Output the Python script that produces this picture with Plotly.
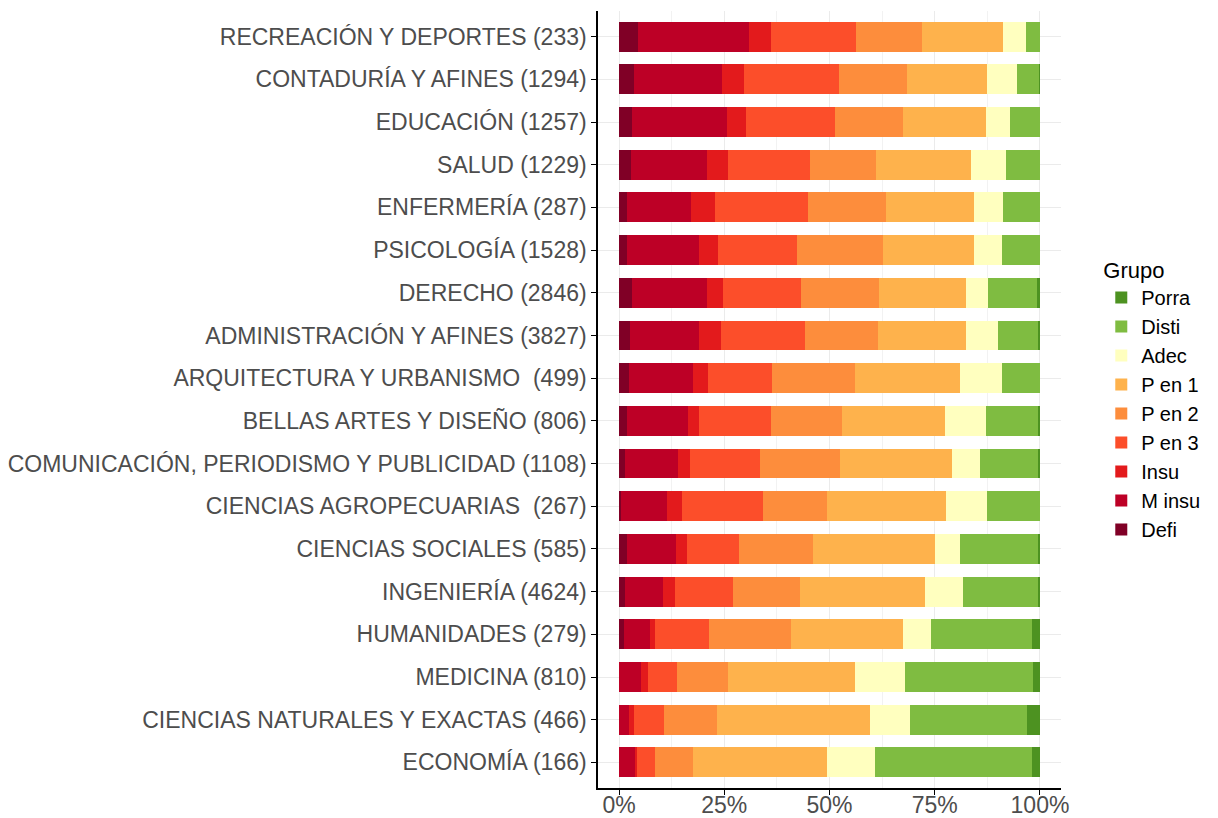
import plotly.graph_objects as go

categories = [
    "RECREACIÓN Y DEPORTES (233)",
    "CONTADURÍA Y AFINES (1294)",
    "EDUCACIÓN (1257)",
    "SALUD (1229)",
    "ENFERMERÍA (287)",
    "PSICOLOGÍA (1528)",
    "DERECHO (2846)",
    "ADMINISTRACIÓN Y AFINES (3827)",
    "ARQUITECTURA Y URBANISMO  (499)",
    "BELLAS ARTES Y DISEÑO (806)",
    "COMUNICACIÓN, PERIODISMO Y PUBLICIDAD (1108)",
    "CIENCIAS AGROPECUARIAS  (267)",
    "CIENCIAS SOCIALES (585)",
    "INGENIERÍA (4624)",
    "HUMANIDADES (279)",
    "MEDICINA (810)",
    "CIENCIAS NATURALES Y EXACTAS (466)",
    "ECONOMÍA (166)",
]

groups = ["Defi", "M insu", "Insu", "P en 3", "P en 2", "P en 1", "Adec", "Disti", "Porra"]

defi   = [4.44, 3.49, 3.01, 2.77, 1.82, 1.82, 3.01, 2.54, 2.30, 1.82, 1.35, 0.40, 1.82, 1.35, 1.11, 0.10, 0.00, 0.00]
m_insu = [26.39, 20.92, 22.58, 18.07, 15.21, 17.12, 17.83, 16.40, 15.21, 14.50, 12.60, 10.94, 11.65, 9.03, 6.18, 5.15, 2.30, 3.72]
insu   = [5.23, 5.23, 4.52, 4.99, 5.71, 4.52, 3.80, 5.23, 3.57, 2.61, 2.85, 3.57, 2.61, 2.85, 1.19, 1.66, 1.19, 0.48]
p_en_3 = [20.21, 22.82, 21.16, 19.49, 22.11, 18.78, 18.54, 19.97, 15.21, 17.12, 16.64, 19.26, 12.36, 13.79, 12.84, 6.89, 7.13, 4.28]
p_en_2 = [15.69, 16.16, 16.16, 15.69, 18.54, 20.44, 18.54, 17.35, 19.73, 16.88, 19.02, 15.21, 17.59, 15.93, 19.49, 12.12, 12.60, 9.03]
p_en_1 = [19.26, 19.02, 19.73, 22.35, 20.92, 21.63, 20.68, 20.92, 24.72, 24.48, 26.62, 28.29, 29.00, 29.71, 26.62, 29.95, 36.37, 31.85]
adec   = [5.47, 7.13, 5.71, 8.32, 6.89, 6.66, 5.23, 7.61, 9.98, 9.75, 6.66, 9.75, 5.94, 9.03, 6.66, 11.89, 9.51, 11.41]
disti  = [3.33, 5.23, 7.13, 8.08, 8.80, 9.03, 11.65, 9.75, 9.03, 12.60, 14.03, 12.60, 18.54, 17.83, 24.01, 30.43, 27.81, 37.08]
porra  = [0.00, 0.20, 0.00, 0.00, 0.00, 0.00, 0.71, 0.24, 0.00, 0.24, 0.24, 0.00, 0.48, 0.50, 1.90, 1.66, 3.09, 1.90]

series = [defi, m_insu, insu, p_en_3, p_en_2, p_en_1, adec, disti, porra]
colors = ["#800026", "#BD0026", "#E31A1C", "#FC4E2A", "#FD8D3C", "#FEB24C", "#FFFFBF", "#7FBC41", "#4D9221"]

tick_vals = [0, 25, 50, 75, 100]
tick_text = ["0%", "25%", "50%", "75%", "100%"]

fig = go.Figure()
for name, vals, col in zip(groups, series, colors):
    fig.add_trace(go.Bar(
        y=categories, x=vals, name=name, orientation="h",
        marker=dict(color=col, line=dict(width=0)),
        width=0.7,
    ))

font_family = "Liberation Sans, Arial, sans-serif"
fig.update_layout(
    barmode="stack",
    barnorm="percent",
    width=1210, height=810,
    margin=dict(l=590, r=157, t=3, b=30, autoexpand=False),
    paper_bgcolor="white", plot_bgcolor="white",
    font=dict(family=font_family, size=23, color="black"),
    legend=dict(
        title=dict(text="Grupo", font=dict(size=22, color="black")),
        traceorder="reversed",
        x=1.087, xanchor="left", y=0.5, yanchor="middle",
        font=dict(size=20, color="black"),
        tracegroupgap=0,
    ),
    xaxis=dict(
        range=[-5, 105], automargin=False,
        tickvals=tick_vals, ticktext=tick_text,
        showgrid=True, gridcolor="#EBEBEB", gridwidth=1.2,
        minor=dict(tickvals=[12.5, 37.5, 62.5, 87.5], showgrid=True, gridcolor="#F2F2F2", gridwidth=0.6),
        showline=True, linecolor="black", linewidth=1.5,
        ticks="outside", tickcolor="black", ticklen=5, tickwidth=1.2,
        tickfont=dict(size=23, color="#4D4D4D"),
        ticklabelstandoff=-9,
        zeroline=False, fixedrange=True,
    ),
    yaxis=dict(
        categoryorder="array", categoryarray=categories,
        automargin=False,
        showgrid=True, gridcolor="#EBEBEB", gridwidth=1.2,
        showline=True, linecolor="black", linewidth=1.5,
        ticks="outside", tickcolor="black", ticklen=5, tickwidth=1.2,
        tickfont=dict(size=23, color="#4D4D4D"),
        zeroline=False,
    ),
)
fig.update_yaxes(autorange=False, range=[17.6, -0.6])

fig.write_html("out.html")
